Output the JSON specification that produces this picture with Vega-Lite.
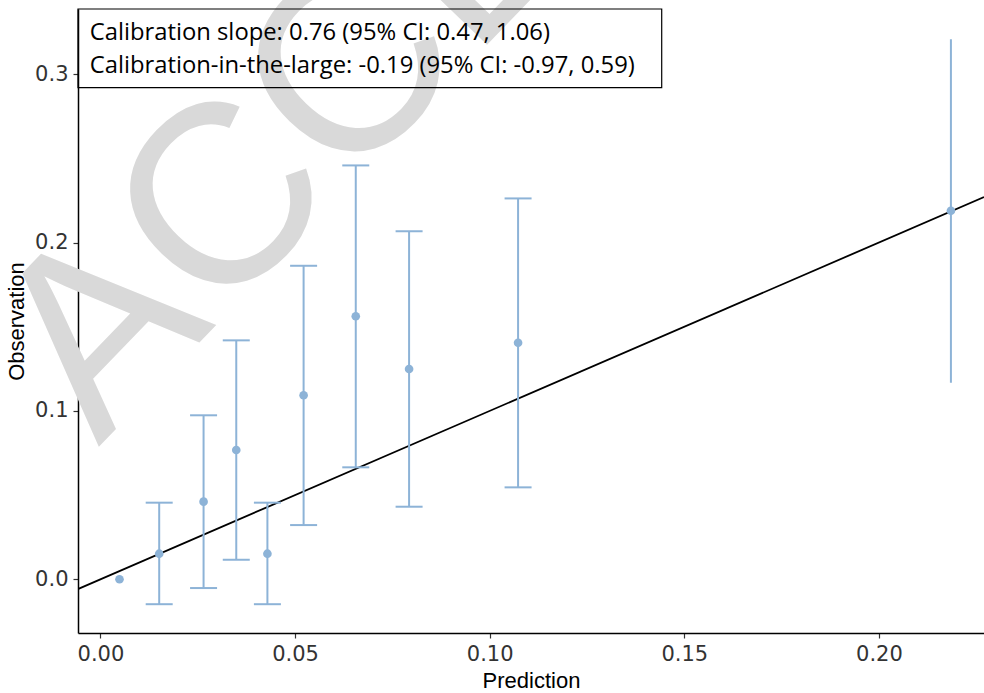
{
  "$schema": "https://vega.github.io/schema/vega-lite/v6.json",
  "width": 906,
  "height": 624,
  "autosize": {"type": "none"},
  "padding": {"left": 78, "top": 9, "right": 0, "bottom": 60},
  "background": "white",
  "config": {
    "view": {"stroke": null},
    "font": "Liberation Sans",
    "axis": {
      "grid": false,
      "domainColor": "black",
      "domainWidth": 1.5,
      "tickColor": "#333333",
      "tickWidth": 1.2,
      "tickSize": 5,
      "labelFont": "DejaVu Sans",
      "labelFontSize": 21,
      "labelColor": "#333333",
      "titleFont": "Liberation Sans",
      "titleFontSize": 22,
      "titleFontWeight": "normal",
      "titleColor": "black",
      "zindex": 1
    }
  },
  "datasets": {
    "bins": [
      {"pred": 0.0049, "obs": 0.0, "lo": null, "hi": null},
      {"pred": 0.0151, "obs": 0.0152, "lo": -0.0148, "hi": 0.0455},
      {"pred": 0.0265, "obs": 0.0461, "lo": -0.0052, "hi": 0.0974},
      {"pred": 0.0349, "obs": 0.0768, "lo": 0.0116, "hi": 0.1419},
      {"pred": 0.0429, "obs": 0.0152, "lo": -0.0148, "hi": 0.0455},
      {"pred": 0.0522, "obs": 0.1093, "lo": 0.0322, "hi": 0.1862},
      {"pred": 0.0656, "obs": 0.1562, "lo": 0.0665, "hi": 0.2458},
      {"pred": 0.0793, "obs": 0.1249, "lo": 0.0431, "hi": 0.2067},
      {"pred": 0.1073, "obs": 0.1405, "lo": 0.0546, "hi": 0.2262},
      {"pred": 0.2185, "obs": 0.2189, "lo": 0.1167, "hi": 0.3207}
    ],
    "diag": [
      {"pred": -0.0058, "obs": -0.0058},
      {"pred": 0.227, "obs": 0.227}
    ],
    "notes": [
      {"line": 1, "label": "Calibration slope: 0.76 (95% CI: 0.47, 1.06)"},
      {"line": 2, "label": "Calibration-in-the-large: -0.19 (95% CI: -0.97, 0.59)"}
    ]
  },
  "layer": [
    {
      "data": {"values": [{"label": "ACCEPTED"}]},
      "mark": {"type": "text", "fontSize": 255, "font": "Liberation Sans", "color": "#d9d9d9", "angle": -46, "align": "left", "baseline": "alphabetic"},
      "encoding": {
        "x": {"datum": -0.0005, "type": "quantitative", "scale": {"domain": [-0.00576, 0.227], "nice": false, "zero": false}, "axis": {"values": [0, 0.05, 0.1, 0.15, 0.2], "format": ".2f", "title": "Prediction", "labelPadding": 5, "titlePadding": 6}},
        "y": {"datum": 0.0786, "type": "quantitative", "scale": {"domain": [-0.0319, 0.3387], "nice": false, "zero": false}, "axis": {"values": [0, 0.1, 0.2, 0.3], "format": ".1f", "title": "Observation", "labelPadding": 5, "titlePadding": 6}},
        "text": {"field": "label"}
      }
    },
    {
      "data": {"values": [{"label": "box"}]},
      "mark": {"type": "rect", "fill": null, "fillOpacity": 0, "stroke": "black", "strokeWidth": 1.2},
      "encoding": {
        "x": {"datum": -0.00576, "type": "quantitative"},
        "x2": {"datum": 0.1442},
        "y": {"datum": 0.3387, "type": "quantitative"},
        "y2": {"datum": 0.292}
      }
    },
    {
      "data": {"name": "diag"},
      "mark": {"type": "line", "color": "black", "strokeWidth": 1.8, "clip": true},
      "encoding": {
        "x": {"field": "pred", "type": "quantitative"},
        "y": {"field": "obs", "type": "quantitative"}
      }
    },
    {
      "data": {"name": "bins"},
      "transform": [{"filter": "datum.lo != null"}],
      "mark": {"type": "rule", "color": "#8db3d7", "strokeWidth": 2},
      "encoding": {
        "x": {"field": "pred", "type": "quantitative"},
        "y": {"field": "lo", "type": "quantitative"},
        "y2": {"field": "hi"}
      }
    },
    {
      "data": {"name": "bins"},
      "transform": [{"filter": "datum.lo != null && datum.pred < 0.2"}],
      "mark": {"type": "tick", "orient": "horizontal", "color": "#8db3d7", "size": 27, "thickness": 2, "opacity": 1},
      "encoding": {
        "x": {"field": "pred", "type": "quantitative"},
        "y": {"field": "lo", "type": "quantitative"}
      }
    },
    {
      "data": {"name": "bins"},
      "transform": [{"filter": "datum.lo != null && datum.pred < 0.2"}],
      "mark": {"type": "tick", "orient": "horizontal", "color": "#8db3d7", "size": 27, "thickness": 2, "opacity": 1},
      "encoding": {
        "x": {"field": "pred", "type": "quantitative"},
        "y": {"field": "hi", "type": "quantitative"}
      }
    },
    {
      "data": {"name": "bins"},
      "mark": {"type": "point", "filled": true, "color": "#8db3d7", "opacity": 1, "size": 75},
      "encoding": {
        "x": {"field": "pred", "type": "quantitative"},
        "y": {"field": "obs", "type": "quantitative"}
      }
    },
    {
      "data": {"name": "notes"},
      "transform": [{"filter": "datum.line == 1"}],
      "mark": {"type": "text", "font": "Open Sans", "fontSize": 23.8, "color": "black", "align": "left", "baseline": "alphabetic"},
      "encoding": {
        "x": {"datum": -0.00275, "type": "quantitative"},
        "y": {"datum": 0.3205, "type": "quantitative"},
        "text": {"field": "label"}
      }
    },
    {
      "data": {"name": "notes"},
      "transform": [{"filter": "datum.line == 2"}],
      "mark": {"type": "text", "font": "Open Sans", "fontSize": 23.8, "color": "black", "align": "left", "baseline": "alphabetic"},
      "encoding": {
        "x": {"datum": -0.00275, "type": "quantitative"},
        "y": {"datum": 0.3005, "type": "quantitative"},
        "text": {"field": "label"}
      }
    }
  ]
}
